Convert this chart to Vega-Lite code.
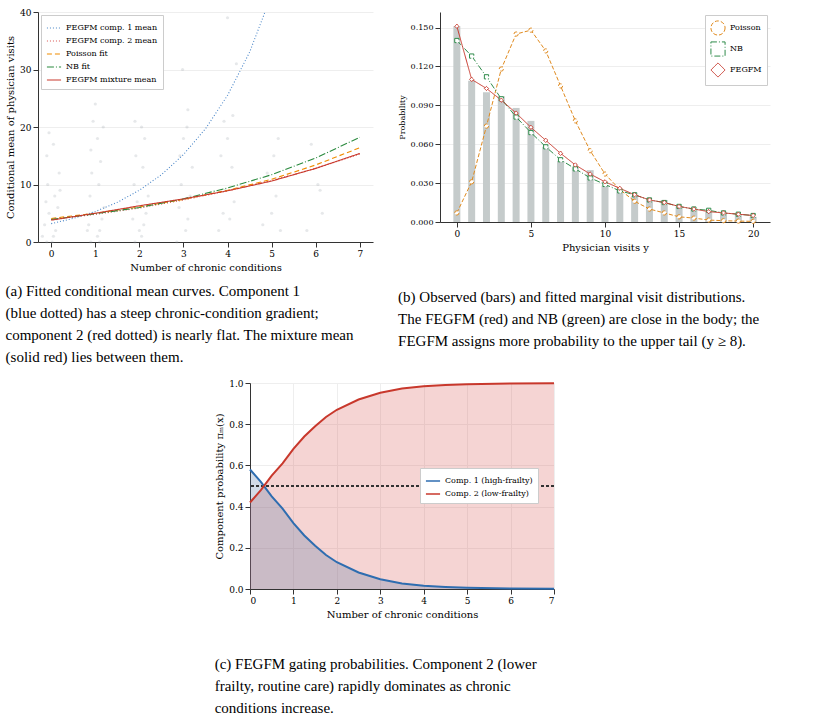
{
"$schema":"https://vega.github.io/schema/vega-lite/v6.json",
"background":"white","padding":{"left":5,"top":8,"right":5,"bottom":0},
"center":true,"spacing":14,
"resolve":{"scale":{"x":"independent","y":"independent","color":"independent","strokeDash":"independent","strokeWidth":"independent","shape":"independent"},"legend":{"color":"independent","strokeDash":"independent","strokeWidth":"independent","shape":"independent"}},
"config":{"font":"DejaVu Serif","view":{"stroke":null},"axis":{"labelFont":"DejaVu Serif","titleFont":"DejaVu Serif","labelFontSize":9,"titleFontSize":10,"titleFontWeight":"normal","grid":true,"gridColor":"#eee","domainColor":"#333","tickColor":"#333"},"legend":{"labelFont":"DejaVu Serif","labelFontSize":8,"strokeColor":"#ccc","padding":5,"fillColor":"white","symbolSize":200,"rowPadding":1},
"title":{"font":"Liberation Serif","fontSize":15,"fontWeight":"normal","orient":"bottom","anchor":"start","offset":12,"lineHeight":22}},
"datasets":{
"scat":[{"x":-0.1,"y":0},{"x":0.05,"y":1},{"x":0.1,"y":2},{"x":-0.15,"y":3},{"x":0.12,"y":4},{"x":-0.05,"y":5},{"x":0.15,"y":6},{"x":-0.12,"y":7},{"x":0.08,"y":8},{"x":-0.08,"y":10},{"x":0.18,"y":12},{"x":-0.1,"y":15},{"x":0.05,"y":17},{"x":-0.05,"y":19},{"x":0.2,"y":9},{"x":0.02,"y":0},{"x":-0.2,"y":1},
{"x":0.9,"y":0},{"x":1.05,"y":1},{"x":1.1,"y":2},{"x":0.85,"y":3},{"x":1.15,"y":4},{"x":0.95,"y":5},{"x":1.2,"y":6},{"x":0.88,"y":8},{"x":1.08,"y":10},{"x":0.92,"y":12},{"x":1.12,"y":14},{"x":0.9,"y":16},{"x":1.05,"y":18},{"x":0.95,"y":21},{"x":1.0,"y":24},{"x":1.18,"y":20},{"x":1.1,"y":0},{"x":0.82,"y":2},
{"x":1.9,"y":0},{"x":2.05,"y":1},{"x":2.1,"y":3},{"x":1.85,"y":4},{"x":2.15,"y":5},{"x":1.95,"y":7},{"x":2.2,"y":8},{"x":1.88,"y":10},{"x":2.08,"y":13},{"x":1.92,"y":15},{"x":2.12,"y":18},{"x":1.9,"y":21},{"x":2.05,"y":20},{"x":2.18,"y":29},{"x":1.95,"y":39},{"x":2.0,"y":2},
{"x":2.85,"y":0},{"x":3.05,"y":2},{"x":3.1,"y":4},{"x":2.9,"y":6},{"x":3.15,"y":8},{"x":2.95,"y":10},{"x":3.2,"y":13},{"x":2.92,"y":15},{"x":3.0,"y":18},{"x":3.1,"y":23},{"x":2.98,"y":30},{"x":3.08,"y":20},
{"x":3.8,"y":2},{"x":4.05,"y":4},{"x":3.9,"y":5},{"x":4.15,"y":7},{"x":3.95,"y":9},{"x":4.1,"y":13},{"x":3.85,"y":15},{"x":4.0,"y":18},{"x":4.12,"y":22},{"x":3.92,"y":21},{"x":4.2,"y":31},{"x":4.0,"y":39},
{"x":4.8,"y":3},{"x":5.0,"y":5},{"x":5.1,"y":8},{"x":4.9,"y":12},{"x":5.05,"y":15},{"x":5.15,"y":18},{"x":5.2,"y":2},
{"x":5.8,"y":2},{"x":6.05,"y":10},{"x":6.15,"y":5},{"x":5.9,"y":17},{"x":6.1,"y":9}],
"curves":[
{"x":0,"y":3.2,"s":"FEGFM comp. 1 mean"},{"x":0.5,"y":4.1,"s":"FEGFM comp. 1 mean"},{"x":1,"y":5.3,"s":"FEGFM comp. 1 mean"},{"x":1.5,"y":6.9,"s":"FEGFM comp. 1 mean"},{"x":2,"y":9,"s":"FEGFM comp. 1 mean"},{"x":2.5,"y":11.7,"s":"FEGFM comp. 1 mean"},{"x":3,"y":15.2,"s":"FEGFM comp. 1 mean"},{"x":3.5,"y":19.7,"s":"FEGFM comp. 1 mean"},{"x":4,"y":25.5,"s":"FEGFM comp. 1 mean"},{"x":4.5,"y":33,"s":"FEGFM comp. 1 mean"},{"x":4.85,"y":40,"s":"FEGFM comp. 1 mean"},
{"x":0,"y":3.9,"s":"FEGFM comp. 2 mean"},{"x":1,"y":4.8,"s":"FEGFM comp. 2 mean"},{"x":2,"y":5.9,"s":"FEGFM comp. 2 mean"},{"x":3,"y":7.3,"s":"FEGFM comp. 2 mean"},{"x":4,"y":8.9,"s":"FEGFM comp. 2 mean"},{"x":5,"y":10.7,"s":"FEGFM comp. 2 mean"},{"x":6,"y":12.8,"s":"FEGFM comp. 2 mean"},{"x":7,"y":15.3,"s":"FEGFM comp. 2 mean"},
{"x":0,"y":4.1,"s":"Poisson fit"},{"x":1,"y":5.0,"s":"Poisson fit"},{"x":2,"y":6.1,"s":"Poisson fit"},{"x":3,"y":7.4,"s":"Poisson fit"},{"x":4,"y":9.0,"s":"Poisson fit"},{"x":5,"y":10.9,"s":"Poisson fit"},{"x":6,"y":13.4,"s":"Poisson fit"},{"x":7,"y":16.4,"s":"Poisson fit"},
{"x":0,"y":3.9,"s":"NB fit"},{"x":1,"y":4.9,"s":"NB fit"},{"x":2,"y":6.0,"s":"NB fit"},{"x":3,"y":7.5,"s":"NB fit"},{"x":4,"y":9.4,"s":"NB fit"},{"x":5,"y":11.7,"s":"NB fit"},{"x":6,"y":14.6,"s":"NB fit"},{"x":7,"y":18.2,"s":"NB fit"},
{"x":0,"y":3.8,"s":"FEGFM mixture mean"},{"x":1,"y":5.0,"s":"FEGFM mixture mean"},{"x":2,"y":6.3,"s":"FEGFM mixture mean"},{"x":3,"y":7.5,"s":"FEGFM mixture mean"},{"x":4,"y":8.9,"s":"FEGFM mixture mean"},{"x":5,"y":10.6,"s":"FEGFM mixture mean"},{"x":6,"y":12.8,"s":"FEGFM mixture mean"},{"x":7,"y":15.4,"s":"FEGFM mixture mean"}],
"obs":[{"y":0,"p":0.151},{"y":1,"p":0.109},{"y":2,"p":0.100},{"y":3,"p":0.097},{"y":4,"p":0.088},{"y":5,"p":0.078},{"y":6,"p":0.058},{"y":7,"p":0.047},{"y":8,"p":0.042},{"y":9,"p":0.040},{"y":10,"p":0.028},{"y":11,"p":0.025},{"y":12,"p":0.020},{"y":13,"p":0.017},{"y":14,"p":0.017},{"y":15,"p":0.012},{"y":16,"p":0.010},{"y":17,"p":0.008},{"y":18,"p":0.007},{"y":19,"p":0.006},{"y":20,"p":0.004}],
"fits":[
{"y":0,"p":0.007,"m":"Poisson"},{"y":1,"p":0.031,"m":"Poisson"},{"y":2,"p":0.074,"m":"Poisson"},{"y":3,"p":0.118,"m":"Poisson"},{"y":4,"p":0.145,"m":"Poisson"},{"y":5,"p":0.148,"m":"Poisson"},{"y":6,"p":0.132,"m":"Poisson"},{"y":7,"p":0.105,"m":"Poisson"},{"y":8,"p":0.078,"m":"Poisson"},{"y":9,"p":0.055,"m":"Poisson"},{"y":10,"p":0.037,"m":"Poisson"},{"y":11,"p":0.025,"m":"Poisson"},{"y":12,"p":0.016,"m":"Poisson"},{"y":13,"p":0.010,"m":"Poisson"},{"y":14,"p":0.007,"m":"Poisson"},{"y":15,"p":0.004,"m":"Poisson"},{"y":16,"p":0.003,"m":"Poisson"},{"y":17,"p":0.0015,"m":"Poisson"},{"y":18,"p":0.001,"m":"Poisson"},{"y":19,"p":0.0007,"m":"Poisson"},{"y":20,"p":0.0005,"m":"Poisson"},
{"y":0,"p":0.140,"m":"NB"},{"y":1,"p":0.128,"m":"NB"},{"y":2,"p":0.112,"m":"NB"},{"y":3,"p":0.095,"m":"NB"},{"y":4,"p":0.081,"m":"NB"},{"y":5,"p":0.069,"m":"NB"},{"y":6,"p":0.058,"m":"NB"},{"y":7,"p":0.048,"m":"NB"},{"y":8,"p":0.041,"m":"NB"},{"y":9,"p":0.034,"m":"NB"},{"y":10,"p":0.029,"m":"NB"},{"y":11,"p":0.024,"m":"NB"},{"y":12,"p":0.021,"m":"NB"},{"y":13,"p":0.017,"m":"NB"},{"y":14,"p":0.015,"m":"NB"},{"y":15,"p":0.012,"m":"NB"},{"y":16,"p":0.010,"m":"NB"},{"y":17,"p":0.009,"m":"NB"},{"y":18,"p":0.007,"m":"NB"},{"y":19,"p":0.006,"m":"NB"},{"y":20,"p":0.005,"m":"NB"},
{"y":0,"p":0.151,"m":"FEGFM"},{"y":1,"p":0.110,"m":"FEGFM"},{"y":2,"p":0.103,"m":"FEGFM"},{"y":3,"p":0.094,"m":"FEGFM"},{"y":4,"p":0.084,"m":"FEGFM"},{"y":5,"p":0.073,"m":"FEGFM"},{"y":6,"p":0.063,"m":"FEGFM"},{"y":7,"p":0.053,"m":"FEGFM"},{"y":8,"p":0.044,"m":"FEGFM"},{"y":9,"p":0.037,"m":"FEGFM"},{"y":10,"p":0.031,"m":"FEGFM"},{"y":11,"p":0.026,"m":"FEGFM"},{"y":12,"p":0.021,"m":"FEGFM"},{"y":13,"p":0.017,"m":"FEGFM"},{"y":14,"p":0.015,"m":"FEGFM"},{"y":15,"p":0.012,"m":"FEGFM"},{"y":16,"p":0.010,"m":"FEGFM"},{"y":17,"p":0.008,"m":"FEGFM"},{"y":18,"p":0.007,"m":"FEGFM"},{"y":19,"p":0.006,"m":"FEGFM"},{"y":20,"p":0.005,"m":"FEGFM"}],
"gate":[{"x":0,"c1":0.58,"c2":0.42},{"x":0.25,"c1":0.52,"c2":0.48},{"x":0.5,"c1":0.45,"c2":0.55},{"x":0.75,"c1":0.39,"c2":0.61},{"x":1,"c1":0.32,"c2":0.68},{"x":1.25,"c1":0.26,"c2":0.74},{"x":1.5,"c1":0.21,"c2":0.79},{"x":1.75,"c1":0.165,"c2":0.835},{"x":2,"c1":0.13,"c2":0.87},{"x":2.5,"c1":0.08,"c2":0.92},{"x":3,"c1":0.047,"c2":0.953},{"x":3.5,"c1":0.027,"c2":0.973},{"x":4,"c1":0.016,"c2":0.984},{"x":4.5,"c1":0.01,"c2":0.99},{"x":5,"c1":0.006,"c2":0.994},{"x":6,"c1":0.002,"c2":0.998},{"x":7,"c1":0.001,"c2":0.999}]
},
"vconcat":[
{"resolve":{"scale":{"x":"independent","y":"independent","color":"independent","strokeDash":"independent","strokeWidth":"independent","shape":"independent"},"legend":{"color":"independent","strokeDash":"independent","strokeWidth":"independent","shape":"independent"}},
"spacing":25,
"hconcat":[
{"width":335,"height":230,
"title":{"text":["(a) Fitted conditional mean curves.   Component 1","(blue dotted) has a steep chronic-condition gradient;","component 2 (red dotted) is nearly flat. The mixture mean","(solid red) lies between them."],"font":"Liberation Serif"},
"layer":[
{"data":{"name":"scat"},"mark":{"type":"circle","size":10,"color":"#9aa5ad","opacity":0.25},
"encoding":{"x":{"field":"x","type":"quantitative","scale":{"domain":[-0.3,7.3],"nice":false},"axis":{"values":[0,1,2,3,4,5,6,7],"grid":false,"title":"Number of chronic conditions"}},"y":{"field":"y","type":"quantitative","scale":{"domain":[0,40]},"axis":{"values":[0,10,20,30,40],"title":"Conditional mean of physician visits"}}}},
{"data":{"name":"curves"},"mark":{"type":"line","clip":true},
"encoding":{"x":{"field":"x","type":"quantitative"},"y":{"field":"y","type":"quantitative"},
"color":{"field":"s","type":"nominal","sort":null,"scale":{"domain":["FEGFM comp. 1 mean","FEGFM comp. 2 mean","Poisson fit","NB fit","FEGFM mixture mean"],"range":["#4a86c8","#d9534f","#f08c00","#2a8a3e","#c8382c"]},"legend":{"title":null,"orient":"top-left","offset":3}},
"strokeDash":{"field":"s","type":"nominal","sort":null,"scale":{"domain":["FEGFM comp. 1 mean","FEGFM comp. 2 mean","Poisson fit","NB fit","FEGFM mixture mean"],"range":[[1,2],[1,2],[5,3],[7,2,1,2],[1,0]]},"legend":{"title":null,"orient":"top-left","offset":3}},
"strokeWidth":{"field":"s","type":"nominal","sort":null,"scale":{"domain":["FEGFM comp. 1 mean","FEGFM comp. 2 mean","Poisson fit","NB fit","FEGFM mixture mean"],"range":[1.1,1.1,1.6,1.6,2.3]},"legend":{"title":null,"orient":"top-left","offset":3}}}}
]},
{"width":330,"height":210,
"title":{"text":["(b) Observed (bars) and fitted marginal visit distributions.","The FEGFM (red) and NB (green) are close in the body; the","FEGFM assigns more probability to the upper tail (y ≥ 8)."],"offset":38,"font":"Liberation Serif"},
"layer":[
{"data":{"name":"obs"},"mark":{"type":"bar","color":"#c5cbcb","width":7},
"encoding":{"x":{"field":"y","type":"quantitative","scale":{"domain":[-0.8,20.8],"nice":false},"axis":{"values":[0,5,10,15,20],"grid":false,"title":"Physician visits y"}},"y":{"field":"p","type":"quantitative","scale":{"domain":[0,0.162],"nice":false},"axis":{"values":[0,0.03,0.06,0.09,0.12,0.15],"format":".3f","title":"Probability","titleFontSize":8,"labelFontSize":8}}}},
{"data":{"name":"fits"},"mark":{"type":"line","point":{"filled":false,"fill":"white","size":18,"strokeWidth":1}},
"encoding":{"x":{"field":"y","type":"quantitative"},"y":{"field":"p","type":"quantitative"},
"color":{"field":"m","type":"nominal","sort":null,"scale":{"domain":["Poisson","NB","FEGFM"],"range":["#e08a1e","#2e8b4a","#c8382c"]},"legend":{"title":null,"orient":"top-right","offset":3}},
"shape":{"field":"m","type":"nominal","sort":null,"scale":{"domain":["Poisson","NB","FEGFM"],"range":["circle","square","diamond"]},"legend":{"title":null,"orient":"top-right","offset":3}},
"strokeDash":{"field":"m","type":"nominal","sort":null,"scale":{"domain":["Poisson","NB","FEGFM"],"range":[[4,2],[6,2,1,2],[1,0]]},"legend":{"title":null,"orient":"top-right","offset":3}},
"strokeWidth":{"field":"m","type":"nominal","sort":null,"scale":{"domain":["Poisson","NB","FEGFM"],"range":[1,1,1.6]},"legend":null}}}
]}
]},
{"width":304,"height":206,
"title":{"text":["(c) FEGFM gating probabilities. Component 2 (lower","frailty, routine care) rapidly dominates as chronic","conditions increase."],"offset":38,"font":"Liberation Serif"},
"data":{"name":"gate"},
"layer":[
{"mark":{"type":"area","color":"#d9534f","opacity":0.25},"encoding":{"x":{"field":"x","type":"quantitative","scale":{"domain":[0,7],"nice":false},"axis":{"values":[0,1,2,3,4,5,6,7],"title":"Number of chronic conditions"}},"y":{"field":"c2","type":"quantitative","scale":{"domain":[0,1]},"axis":{"values":[0,0.2,0.4,0.6,0.8,1],"format":".1f","title":"Component probability πₘ(x)"}}}},
{"mark":{"type":"area","color":"#4a6fa0","opacity":0.25},"encoding":{"x":{"field":"x","type":"quantitative"},"y":{"field":"c1","type":"quantitative"}}},
{"mark":{"type":"rule","color":"#333","strokeDash":[3,2],"strokeWidth":0.7},"encoding":{"y":{"datum":0.5}}},
{"transform":[{"fold":["c1","c2"],"as":["k","v"]},{"calculate":"datum.k=='c1'?'Comp. 1 (high-frailty)':'Comp. 2 (low-frailty)'","as":"lab"}],
"mark":{"type":"line","strokeWidth":2},"encoding":{"x":{"field":"x","type":"quantitative"},"y":{"field":"v","type":"quantitative"},
"color":{"field":"lab","type":"nominal","scale":{"domain":["Comp. 1 (high-frailty)","Comp. 2 (low-frailty)"],"range":["#2e6db0","#c8382c"]},"legend":{"title":null,"orient":"none","legendX":170,"legendY":85}}}}
]}
]}
